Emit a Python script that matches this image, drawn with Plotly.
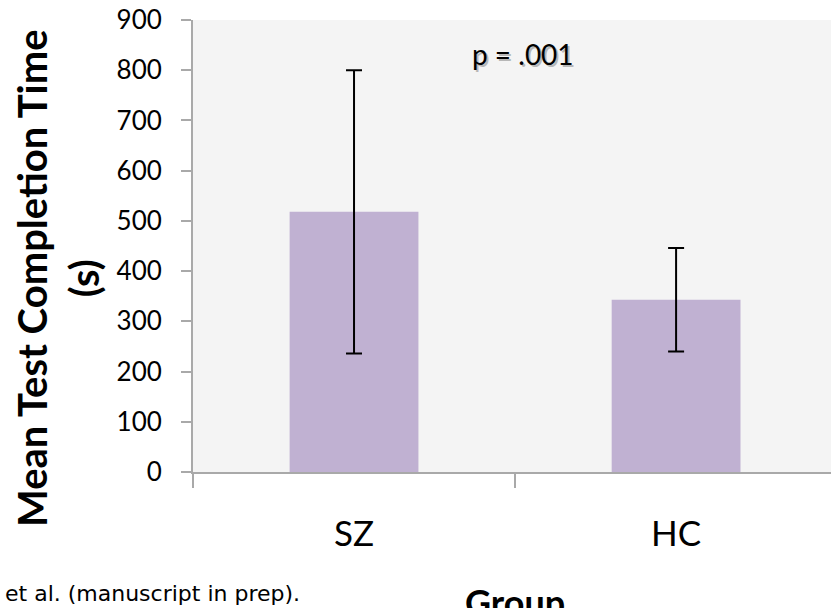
import plotly.graph_objects as go

# Group means and standard deviations of test completion time (seconds)
groups = ["SZ", "HC"]
mean_time = [518, 343]
sd_time = [282, 103]

y_ticks = [0, 100, 200, 300, 400, 500, 600, 700, 800, 900]

axis_grey = "#A9A9A9"

fig = go.Figure()
fig.add_trace(go.Bar(
    x=groups,
    y=mean_time,
    marker=dict(color="#C0B1D2", line=dict(width=0)),
    error_y=dict(type="data", array=sd_time, visible=True,
                 color="black", thickness=2, width=8),
    width=0.4,
    showlegend=False,
))

fig.update_layout(
    width=831, height=608,
    margin=dict(l=193, r=0, t=20, b=136),
    paper_bgcolor="white",
    plot_bgcolor="#F4F4F4",
    font=dict(family="Lato", color="black"),
    xaxis=dict(
        range=[-0.5, 1.481],
        showline=True, linecolor=axis_grey, linewidth=2,
        ticks="outside", tickson="boundaries", ticklen=14,
        tickcolor=axis_grey, tickwidth=2,
        tickfont=dict(size=35, family="Lato"),
        ticklabelstandoff=30,
        showgrid=False, zeroline=False,
    ),
    yaxis=dict(
        range=[0, 900],
        tickvals=y_ticks,
        showline=True, linecolor=axis_grey, linewidth=2,
        ticks="outside", ticklen=10, tickcolor=axis_grey, tickwidth=2,
        tickfont=dict(size=26, family="Lato"),
        ticklabelstandoff=14,
        showgrid=False, zeroline=False,
    ),
)

# y-axis title (two lines, rotated)
fig.add_annotation(
    text="<b>Mean Test Completion Time<br>(s)</b>",
    textangle=-90, xref="paper", yref="paper",
    x=-193 / 638 + 58 / 638, y=(472 - 278) / 452,
    xanchor="center", yanchor="middle",
    showarrow=False, font=dict(size=40, family="Lato", color="black"),
)

# x-axis title
fig.add_annotation(
    text="<b>Group</b>", xref="paper", yref="paper",
    x=(515 - 193) / 638, y=-(602 - 472) / 452,
    xanchor="center", yanchor="middle",
    showarrow=False, font=dict(size=36, family="Lato", color="black"),
)

# significance label with a soft drop shadow
fig.add_annotation(
    text="p = .001", xref="x", yref="y", x=0.525, y=832,
    xshift=2, yshift=-2,
    showarrow=False, font=dict(size=28, family="Lato", color="rgba(0,0,0,0.25)"),
)
fig.add_annotation(
    text="p = .001", xref="x", yref="y", x=0.525, y=832,
    showarrow=False, font=dict(size=28, family="Lato", color="black"),
)

# citation footnote
fig.add_annotation(
    text="et al. (manuscript in prep).", xref="paper", yref="paper",
    x=-190 / 638, y=-(593 - 472) / 452,
    xanchor="left", yanchor="middle",
    showarrow=False, font=dict(size=22, family="DejaVu Sans", color="black"),
)

fig.write_html("out.html")
